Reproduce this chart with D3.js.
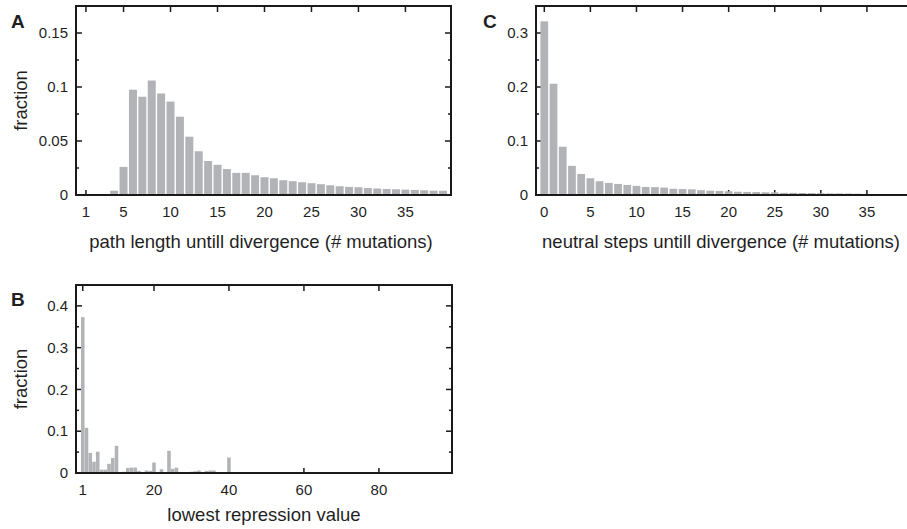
<!DOCTYPE html>
<html>
<head>
<meta charset="utf-8">
<script src="https://cdn.jsdelivr.net/npm/d3@7"></script>
<style>
  body { margin: 0; background: #fff; overflow: hidden; }
  text { font-family: "Liberation Sans", Arial, sans-serif; fill: #1f1f1f; }
  .tick-label { font-size: 15px; }
  .axis-title { font-size: 18.5px; }
  .panel-tag { font-size: 19px; font-weight: bold; }
</style>
</head>
<body>
<div id="chart"></div>
<script>
// panel A: path length untill divergence
var pathSteps = d3.range(1, 40);
var pathFrac = [0, 0, 0, 0.004, 0.026, 0.0975, 0.091, 0.106, 0.094, 0.0865,
  0.0725, 0.054, 0.0405, 0.0315, 0.028, 0.024, 0.0205, 0.0205, 0.0183, 0.0165,
  0.0155, 0.0137, 0.0128, 0.0118, 0.0109, 0.010, 0.009, 0.0081, 0.0075, 0.0072,
  0.0065, 0.006, 0.0056, 0.0053, 0.005, 0.0047, 0.0044, 0.004, 0.004];
var pathTicks = [1, 5, 10, 15, 20, 25, 30, 35];
var pathYTicks = [0, 0.05, 0.1, 0.15];

// panel C: neutral steps untill divergence
var neutralSteps = d3.range(0, 35);
var neutralFrac = [0.3216, 0.206, 0.0894, 0.054, 0.039, 0.031, 0.0255, 0.0224, 0.0205, 0.0186,
  0.0168, 0.0149, 0.0145, 0.0137, 0.0115, 0.011, 0.0105, 0.009, 0.008, 0.0075,
  0.007, 0.006, 0.0057, 0.0055, 0.005, 0.005, 0.004, 0.004, 0.0037, 0.0035,
  0.0033, 0.003, 0.003, 0.0028, 0.0025];
var neutralTicks = [0, 5, 10, 15, 20, 25, 30, 35];
var neutralYTicks = [0, 0.1, 0.2, 0.3];

// panel B: lowest repression value
var repValues = d3.range(1, 41);
var repFrac = [0.373, 0.108, 0.048, 0.027, 0.051, 0.008, 0.008, 0.022, 0.036, 0.065,
  0, 0.003, 0.012, 0.013, 0.013, 0.005, 0, 0.006, 0.005, 0.025,
  0, 0.009, 0, 0.053, 0.01, 0.013, 0, 0, 0, 0.003,
  0.004, 0.006, 0, 0.005, 0.006, 0.006, 0, 0, 0, 0.037];
var repTicks = [1, 20, 40, 60, 80];
var repYTicks = [0, 0.1, 0.2, 0.3, 0.4];

var barColor = "#b2b3b6",
    axisColor = "#1a1a1a";

var svg = d3.select("#chart").append("svg")
    .attr("width", 907)
    .attr("height", 529);

function drawPanel(p) {
  var x = d3.scaleLinear().domain(p.xDomain).range([p.left, p.right]);
  var y = d3.scaleLinear().domain(p.yDomain).range([p.bottom, p.top]);
  var unit = x(1) - x(0);
  var g = svg.append("g");

  // minor y ticks (every half step)
  var minor = [];
  for (var i = 0; i < p.yTicks.length; i++) {
    minor.push(p.yTicks[i] + p.yStep / 2);
  }
  minor = minor.filter(function(d) { return d < p.yDomain[1]; });

  // ticks go under the bars, pointing inwards on all four sides
  var ticks = g.append("g")
      .attr("stroke", axisColor)
      .attr("stroke-width", 1.5);

  ticks.selectAll(".ytl").data(p.yTicks.concat(minor)).enter().append("line")
      .attr("x1", p.left)
      .attr("x2", function(d) { return p.left + (p.yTicks.indexOf(d) >= 0 ? 6 : 3); })
      .attr("y1", function(d) { return y(d); })
      .attr("y2", function(d) { return y(d); });
  ticks.selectAll(".ytr").data(p.yTicks.concat(minor)).enter().append("line")
      .attr("x1", p.right)
      .attr("x2", function(d) { return p.right - (p.yTicks.indexOf(d) >= 0 ? 6 : 3); })
      .attr("y1", function(d) { return y(d); })
      .attr("y2", function(d) { return y(d); });
  ticks.selectAll(".xtb").data(p.xTicks).enter().append("line")
      .attr("x1", function(d) { return x(d); })
      .attr("x2", function(d) { return x(d); })
      .attr("y1", p.bottom)
      .attr("y2", p.bottom - 5);
  ticks.selectAll(".xtt").data(p.xTicks).enter().append("line")
      .attr("x1", function(d) { return x(d); })
      .attr("x2", function(d) { return x(d); })
      .attr("y1", p.top)
      .attr("y2", p.top + 6);

  g.selectAll(".bar")
      .data(p.values)
      .enter().append("rect")
        .attr("class", "bar")
        .attr("x", function(d, i) { return x(p.cats[i]) - unit * p.barFrac / 2; })
        .attr("width", unit * p.barFrac)
        .attr("y", function(d) { return y(d); })
        .attr("height", function(d) { return y(0) - y(d); })
        .style("fill", barColor);

  // box
  g.append("rect")
      .attr("x", p.left)
      .attr("y", p.top)
      .attr("width", p.right - p.left)
      .attr("height", p.bottom - p.top)
      .attr("fill", "none")
      .attr("stroke", axisColor)
      .attr("stroke-width", 2);

  g.selectAll(".ylab").data(p.yTicks).enter().append("text")
      .attr("class", "tick-label")
      .attr("x", p.left - 8)
      .attr("y", function(d) { return y(d); })
      .attr("dy", "0.35em")
      .style("text-anchor", "end")
      .text(function(d) { return String(d); });

  g.selectAll(".xlab").data(p.xTicks).enter().append("text")
      .attr("class", "tick-label")
      .attr("x", function(d) { return x(d); })
      .attr("y", p.bottom + 22)
      .style("text-anchor", "middle")
      .text(function(d) { return d; });

  g.append("text")
      .attr("class", "axis-title")
      .attr("x", p.titleX)
      .attr("y", p.bottom + p.titleDy)
      .style("text-anchor", "middle")
      .text(p.xTitle);

  if (p.yTitle) {
    g.append("text")
        .attr("class", "axis-title")
        .attr("transform", "translate(" + 27 + "," + ((p.top + p.bottom) / 2) + ") rotate(-90)")
        .style("text-anchor", "middle")
        .text(p.yTitle);
  }

  g.append("text")
      .attr("class", "panel-tag")
      .attr("x", p.tagX)
      .attr("y", p.tagY)
      .text(p.tag);
}

drawPanel({
  tag: "A", tagX: 11, tagY: 28,
  left: 76, right: 451, top: 6, bottom: 195,
  xDomain: [-0.06, 39.85], yDomain: [0, 0.175], yStep: 0.05,
  cats: pathSteps, values: pathFrac, barFrac: 0.85,
  xTicks: pathTicks, yTicks: pathYTicks,
  xTitle: "path length untill divergence (# mutations)", titleX: 261, titleDy: 53,
  yTitle: "fraction"
});

drawPanel({
  tag: "C", tagX: 483, tagY: 28,
  left: 536, right: 913, top: 6, bottom: 195,
  xDomain: [-0.9, 40], yDomain: [0, 0.35], yStep: 0.1,
  cats: neutralSteps, values: neutralFrac, barFrac: 0.84,
  xTicks: neutralTicks, yTicks: neutralYTicks,
  xTitle: "neutral steps untill divergence (# mutations)", titleX: 721, titleDy: 53
});

drawPanel({
  tag: "B", tagX: 11, tagY: 306,
  left: 76, right: 452, top: 285, bottom: 473,
  xDomain: [-0.8, 99.5], yDomain: [0, 0.45], yStep: 0.1,
  cats: repValues, values: repFrac, barFrac: 0.95,
  xTicks: repTicks, yTicks: repYTicks,
  xTitle: "lowest repression value", titleX: 264, titleDy: 48,
  yTitle: "fraction"
});
</script>
</body>
</html>
